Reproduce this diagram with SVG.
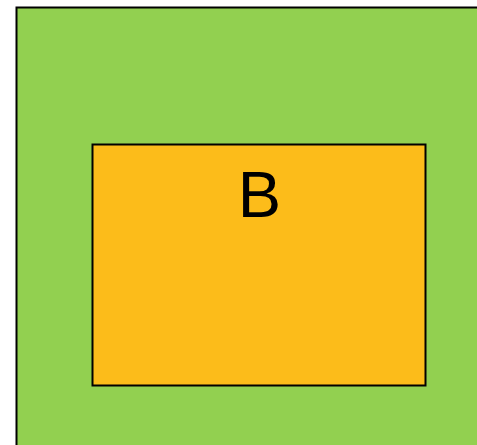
<svg xmlns="http://www.w3.org/2000/svg" width="477" height="445" viewBox="0 0 477 445">
<style>
.box{stroke:#000;stroke-width:2}
.lbl{font-family:"Liberation Sans",Arial,sans-serif;font-size:65px;fill:#000;text-anchor:middle}
</style>
<rect width="477" height="445" fill="#fff"/>
<g id="A">
<rect class="box" x="16.5" y="7.5" width="470" height="450" fill="#92d050"/>
</g>
<g id="B">
<rect class="box" x="92.5" y="144.5" width="333" height="241" fill="#fcbc1a"/>
<text class="lbl" x="259.5" y="217">B</text>
</g>
<g id="connectors"></g>
</svg>
